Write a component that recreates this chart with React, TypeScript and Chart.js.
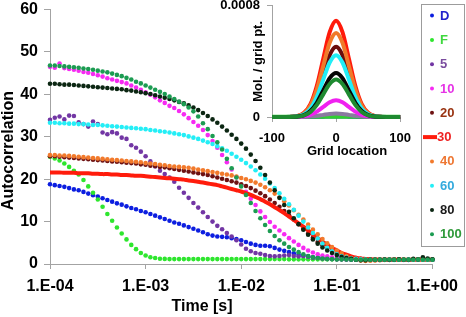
import { useEffect, useRef } from "react";
import { Chart, registerables } from "chart.js";

Chart.register(...registerables);

const FONT = "'Liberation Sans', Arial, Helvetica, sans-serif";

// ---------- main chart data ----------
const LOG_TIME = [
  -4.0, -3.95, -3.9, -3.85, -3.8, -3.75, -3.7, -3.65, -3.6, -3.55,
  -3.5, -3.45, -3.4, -3.35, -3.3, -3.25, -3.2, -3.15, -3.1, -3.05,
  -3.0, -2.95, -2.9, -2.85, -2.8, -2.75, -2.7, -2.65, -2.6, -2.55,
  -2.5, -2.45, -2.4, -2.35, -2.3, -2.25, -2.2, -2.15, -2.1, -2.05,
  -2.0, -1.95, -1.9, -1.85, -1.8, -1.75, -1.7, -1.65, -1.6, -1.55,
  -1.5, -1.45, -1.4, -1.35, -1.3, -1.25, -1.2, -1.15, -1.1, -1.05,
  -1.0, -0.95, -0.9, -0.85, -0.8, -0.75, -0.7, -0.65, -0.6, -0.55,
  -0.5, -0.45, -0.4, -0.35, -0.3, -0.25, -0.2, -0.15, -0.1, -0.05,
  0.0,
];

const G_D = [
  18.8, 18.6, 18.4, 18.2, 17.9, 17.6, 17.4, 17.0, 16.6, 16.2,
  15.9, 15.5, 15.1, 14.7, 14.3, 14.0, 13.6, 13.2, 12.9, 12.5,
  12.2, 11.8, 11.4, 11.0, 10.6, 10.2, 9.8, 9.5, 9.1, 8.7,
  8.3, 7.9, 7.5, 7.0, 6.7, 6.5, 6.4, 6.3, 6.1, 5.9,
  5.6, 5.2, 4.8, 4.5, 4.3, 4.3, 4.2, 3.8, 3.4, 3.1,
  2.8, 2.5, 2.2, 2.0, 1.8, 1.6, 1.5, 1.4, 1.3, 1.2,
  1.2, 1.15, 1.1, 1.1, 1.05, 1.0, 1.0, 1.05, 1.0, 0.95,
  1.0, 1.0, 1.05, 1.0, 1.0, 0.95, 1.0, 1.05, 1.0, 1.0,
  1.0,
];
const G_F = [
  25.3, 24.9, 24.4, 23.7, 22.9, 22.0, 21.1, 19.8, 18.3, 16.8,
  15.2, 13.5, 11.8, 10.2, 8.6, 7.2, 5.8, 4.5, 3.5, 2.6,
  2.0, 1.6, 1.4, 1.25, 1.2, 1.15, 1.15, 1.15, 1.15, 1.15,
  1.15, 1.15, 1.15, 1.15, 1.15, 1.15, 1.15, 1.15, 1.15, 1.15,
  1.15, 1.15, 1.15, 1.15, 1.15, 1.15, 1.15, 1.15, 1.15, 1.15,
  1.1, 1.1, 1.1, 1.1, 1.1, 1.1, 1.1, 1.1, 1.1, 1.1,
  1.1, 1.1, 1.1, 1.1, 1.1, 1.1, 1.1, 1.1, 1.1, 1.1,
  1.1, 1.1, 1.1, 1.1, 1.1, 1.1, 1.1, 1.1, 1.1, 1.1,
  1.1,
];
const G_5 = [
  34.0, 34.5, 34.8, 34.1, 35.0, 34.9, 33.4, 33.0, 32.4, 33.6,
  33.0, 31.0, 30.6, 31.1, 30.8, 29.8, 29.5, 28.0, 27.4, 26.5,
  25.4, 24.2, 23.0, 22.0, 21.2, 20.4, 19.4, 18.0, 16.8, 15.6,
  14.4, 13.3, 12.2, 11.1, 10.0, 9.0, 8.2, 7.3, 6.5, 5.6,
  4.6, 3.6, 3.0, 2.6, 2.4, 2.1, 1.9, 1.8, 1.9, 2.0,
  2.1, 1.9, 1.8, 1.9, 1.7, 1.5, 1.4, 1.3, 1.2, 1.2,
  1.1, 1.1, 1.05, 1.0, 1.0, 1.0, 1.05, 1.0, 0.95, 1.0,
  1.0, 1.0, 1.0, 1.05, 1.0, 1.0, 1.0, 1.0, 1.0, 1.0,
  1.0,
];
const G_10 = [
  46.5, 46.3, 47.3, 46.2, 46.0, 45.8, 45.6, 45.3, 45.1, 44.8,
  44.5, 44.2, 43.8, 43.5, 43.2, 42.9, 42.6, 42.1, 41.6, 41.1,
  40.5, 39.9, 39.3, 38.6, 38.0, 37.3, 36.8, 36.1, 35.3, 34.4,
  33.5, 32.6, 31.6, 30.4, 29.0, 27.4, 25.7, 24.0, 22.3, 20.5,
  18.6, 17.0, 15.4, 13.9, 12.4, 11.1, 9.9, 8.8, 7.9, 7.0,
  6.1, 5.3, 4.5, 3.8, 3.2, 2.7, 2.3, 2.0, 1.8, 1.6,
  1.45, 1.35, 1.25, 1.2, 1.15, 1.1, 1.1, 1.05, 1.0, 1.0,
  1.0, 1.05, 1.0, 1.0, 0.95, 1.0, 1.0, 1.0, 1.05, 1.0,
  1.0,
];
const G_20 = [
  25.4, 25.4, 25.3, 25.2, 25.1, 25.0, 24.9, 24.8, 24.7, 24.6,
  24.5, 24.4, 24.3, 24.2, 24.1, 24.0, 23.9, 23.8, 23.7, 23.5,
  23.4, 23.2, 23.1, 22.9, 22.8, 22.6, 22.4, 22.2, 22.0, 21.8,
  21.6, 21.4, 21.2, 21.0, 20.7, 20.4, 20.1, 19.8, 19.5, 19.2,
  18.8, 18.4, 17.9, 17.3, 16.7, 16.0, 15.2, 14.4, 13.5, 12.5,
  11.5, 10.5, 9.4, 8.3, 7.2, 6.2, 5.2, 4.4, 3.7, 3.1,
  2.6, 2.2, 1.9, 1.6, 1.4, 1.2, 1.1, 1.0, 0.95, 1.0,
  1.0, 0.95, 1.0, 1.0, 1.0, 1.0, 1.0, 1.05, 1.0, 1.0,
  1.0,
];
const G_30 = [
  21.6, 21.6, 21.6, 21.5, 21.5, 21.5, 21.4, 21.4, 21.4, 21.3,
  21.3, 21.2, 21.2, 21.1, 21.1, 21.0, 21.0, 20.9, 20.8, 20.8,
  20.7, 20.6, 20.5, 20.4, 20.3, 20.2, 20.1, 20.0, 19.9, 19.7,
  19.6, 19.4, 19.2, 19.0, 18.8, 18.6, 18.3, 18.0, 17.7, 17.4,
  17.1, 16.7, 16.3, 15.8, 15.3, 14.7, 14.1, 13.4, 12.7, 12.0,
  11.2, 10.4, 9.6, 8.8, 7.9, 7.0, 6.1, 5.3, 4.5, 3.8,
  3.2, 2.6, 2.2, 1.8, 1.5, 1.3, 1.2, 1.1, 1.05, 1.0,
  1.0, 1.0, 1.0, 1.0, 1.0, 1.0, 1.0, 1.0, 1.0, 1.0,
  1.0,
];
const G_40 = [
  25.7, 25.7, 25.6, 25.6, 25.5, 25.4, 25.3, 25.2, 25.1, 25.0,
  24.9, 24.8, 24.7, 24.6, 24.5, 24.4, 24.3, 24.2, 24.1, 24.0,
  23.8, 23.7, 23.6, 23.4, 23.3, 23.1, 23.0, 22.9, 22.8, 22.7,
  22.5, 22.3, 22.1, 21.9, 21.7, 21.5, 21.3, 21.1, 20.9, 20.6,
  20.3, 20.0, 19.6, 19.2, 18.7, 18.1, 17.4, 16.6, 15.7, 14.8,
  13.8, 12.7, 11.6, 10.5, 9.3, 8.1, 7.0, 5.9, 4.9, 4.0,
  3.2, 2.5, 1.9, 1.4, 1.1, 0.8, 0.7, 0.75, 0.85, 0.9,
  0.95, 1.0, 1.0, 1.05, 1.0, 1.0, 1.05, 1.0, 1.0, 1.05,
  1.0,
];
const G_60 = [
  33.3, 33.3, 33.2, 33.2, 33.1, 33.1, 33.0, 33.0, 32.9, 32.8,
  32.8, 32.7, 32.6, 32.5, 32.4, 32.3, 32.2, 32.1, 32.0, 31.9,
  31.8, 31.6, 31.5, 31.3, 31.2, 31.0, 30.8, 30.6, 30.4, 30.1,
  29.8, 29.5, 29.1, 28.7, 28.3, 27.8, 27.3, 26.7, 26.0, 25.3,
  24.6, 23.8, 23.0, 22.1, 21.1, 20.1, 19.0, 17.9, 16.7, 15.4,
  14.1, 12.8, 11.4, 10.0, 8.6, 7.3, 6.0, 4.8, 3.8, 3.0,
  2.3, 1.8, 1.5, 1.3, 1.2, 1.1, 1.05, 1.0, 1.0, 1.0,
  1.0, 1.0, 0.95, 1.0, 1.0, 1.05, 1.0, 1.0, 1.0, 1.0,
  1.0,
];
const G_80 = [
  42.5, 42.5, 42.4, 42.3, 42.3, 42.2, 42.1, 42.0, 41.9, 41.8,
  41.7, 41.6, 41.5, 41.4, 41.3, 41.2, 41.0, 40.9, 40.7, 40.5,
  40.3, 40.1, 39.8, 39.5, 39.2, 38.9, 38.6, 38.2, 37.9, 37.4,
  36.9, 36.3, 35.6, 34.9, 34.1, 33.3, 32.4, 31.5, 30.5, 29.5,
  28.4, 27.2, 25.8, 24.3, 22.7, 21.0, 19.2, 17.4, 15.6, 13.9,
  12.3, 10.8, 9.4, 8.1, 6.9, 5.8, 4.8, 3.9, 3.2, 2.6,
  2.1, 1.7, 1.4, 1.2, 1.0, 0.9, 0.9, 1.0, 1.0, 1.0,
  1.05, 1.0, 1.0, 1.1, 1.0, 1.0, 1.2, 1.05, 1.6, 1.3,
  1.1,
];
const G_100 = [
  46.8, 46.8, 46.7, 46.6, 46.5, 46.4, 46.3, 46.1, 46.0, 45.8,
  45.6, 45.4, 45.2, 44.9, 44.6, 44.3, 43.9, 43.5, 43.0, 42.6,
  42.1, 41.6, 41.1, 40.6, 40.1, 39.5, 38.9, 38.3, 37.7, 36.9,
  36.0, 34.8, 33.2, 31.8, 30.2, 28.7, 27.0, 24.8, 22.6, 20.4,
  18.3, 16.3, 14.4, 12.5, 10.8, 9.2, 7.8, 6.6, 5.6, 4.8,
  4.0, 3.4, 2.8, 2.3, 1.9, 1.6, 1.4, 1.3, 1.2, 1.15,
  1.1, 1.1, 1.05, 1.0, 1.0, 1.0, 1.05, 1.0, 1.0, 1.0,
  1.0, 1.05, 1.0, 1.0, 1.0, 1.0, 1.0, 1.05, 1.0, 1.0,
  1.0,
];

const SERIES_NAMES = ["D", "F", "5", "10", "20", "30", "40", "60", "80", "100"];
const SERIES_VALUES = [G_D, G_F, G_5, G_10, G_20, G_30, G_40, G_60, G_80, G_100];
const SERIES_COLORS = [
  "#0c1ee0", "#2ee62e", "#7236a4", "#f62af2", "#6e1212",
  "#ff1c0c", "#f27a2c", "#24eef6", "#0b2612", "#1c9c52",
];
const LEGEND_TEXT_COLORS = [
  "#2222cc", "#3ed83e", "#7a4c9e", "#e633e6", "#993311",
  "#ee2222", "#ee7733", "#33aadd", "#1a1a1a", "#2f9a3a",
];
const LINE_SERIES = "30";

const X_TICKS = [1e-4, 1e-3, 1e-2, 1e-1, 1];
const X_TICK_LABELS = ["1.E-04", "1.E-03", "1.E-02", "1.E-01", "1.E+00"];
const Y_MIN = 0;
const Y_MAX = 60;
const Y_STEP = 10;
const X_TITLE = "Time [s]";
const Y_TITLE = "Autocorrelation";

// ---------- inset data (values in units of 1e-4 Mol. / grid pt.) ----------
const INSET_X = [-100, -80, -60, -50, -40, -30, -20, -10, 0, 10, 20, 30, 40, 50, 60, 80, 100];
const I_D = [0, 0, 0, 0.002, 0.005, 0.013, 0.024, 0.035, 0.04, 0.035, 0.024, 0.013, 0.005, 0.002, 0, 0, 0];
const I_F = [0.02, 0.02, 0.02, 0.02, 0.02, 0.02, 0.02, 0.02, 0.02, 0.02, 0.02, 0.02, 0.02, 0.02, 0.02, 0.02, 0.02];
const I_5 = [0, 0, 0.003, 0.011, 0.034, 0.081, 0.152, 0.22, 0.25, 0.22, 0.152, 0.081, 0.034, 0.011, 0.003, 0, 0];
const I_10 = [0, 0, 0.013, 0.053, 0.16, 0.39, 0.73, 1.06, 1.2, 1.06, 0.73, 0.39, 0.16, 0.053, 0.013, 0, 0];
const I_20 = [0, 0.002, 0.06, 0.22, 0.68, 1.64, 3.07, 4.45, 5.05, 4.45, 3.07, 1.64, 0.68, 0.22, 0.06, 0.002, 0];
const I_30 = [0, 0.002, 0.08, 0.3, 0.93, 2.25, 4.2, 6.1, 6.92, 6.1, 4.2, 2.25, 0.93, 0.3, 0.08, 0.002, 0];
const I_40 = [0, 0.002, 0.07, 0.27, 0.82, 1.97, 3.67, 5.34, 6.05, 5.34, 3.67, 1.97, 0.82, 0.27, 0.07, 0.002, 0];
const I_60 = [0, 0.001, 0.05, 0.2, 0.6, 1.45, 2.7, 3.92, 4.45, 3.92, 2.7, 1.45, 0.6, 0.2, 0.05, 0.001, 0];
const I_80 = [0, 0.001, 0.035, 0.14, 0.43, 1.03, 1.92, 2.8, 3.17, 2.8, 1.92, 1.03, 0.43, 0.14, 0.035, 0.001, 0];
const I_100 = [0, 0.001, 0.03, 0.12, 0.36, 0.87, 1.63, 2.37, 2.69, 2.37, 1.63, 0.87, 0.36, 0.12, 0.03, 0.001, 0];
const INSET_VALUES = [I_D, I_F, I_5, I_10, I_20, I_30, I_40, I_60, I_80, I_100];
const INSET_COLORS = [
  "#1020d0", "#30d030", "#8a7aa0", "#f020f0", "#6a0c0c",
  "#ff1a0a", "#f07a2a", "#22eef6", "#050505", "#1e8a30",
];
const INSET_X_TICKS = [-100, 0, 100];
const INSET_Y_TICKS = [0, 8];
const INSET_Y_LABELS = ["0", "0.0008"];
const INSET_X_TITLE = "Grid location";
const INSET_Y_TITLE = "Mol. / grid pt.";

const AXIS_GREY = "#a3a3a3";

const mainOverlay = {
  id: "mainOverlay",
  afterDraw(chart: any) {
    const ctx = chart.ctx;
    const a = chart.chartArea;
    ctx.save();
    ctx.fillStyle = "#000";
    ctx.font = `bold 16px ${FONT}`;
    ctx.textAlign = "center";
    ctx.textBaseline = "middle";
    ctx.fillText(X_TITLE, a.left + 152, a.bottom + 43);
    ctx.save();
    ctx.translate(9, a.top + 141);
    ctx.rotate(-Math.PI / 2);
    ctx.fillText(Y_TITLE, 0, 0);
    ctx.restore();

    // legend box
    const left = 421, top = a.top - 6, w = 44, h = 243;
    ctx.fillStyle = "#fff";
    ctx.fillRect(left, top, w, h);
    ctx.strokeStyle = "#9c9c9c";
    ctx.lineWidth = 1;
    ctx.strokeRect(left + 0.5, Math.round(top) + 0.5, w - 1, h - 1);
    ctx.font = `bold 13px ${FONT}`;
    ctx.textAlign = "left";
    chart.data.datasets.forEach((ds: any, i: number) => {
      const y = top + 12 + i * 24.3;
      if (ds.label === LINE_SERIES) {
        ctx.strokeStyle = ds.borderColor;
        ctx.lineWidth = 4;
        ctx.beginPath();
        ctx.moveTo(423, y);
        ctx.lineTo(437, y);
        ctx.stroke();
        ctx.fillStyle = LEGEND_TEXT_COLORS[i];
        ctx.fillText(ds.label, 437, y + 0.5);
      } else {
        ctx.fillStyle = ds.backgroundColor;
        ctx.beginPath();
        ctx.arc(432, y, 2, 0, Math.PI * 2);
        ctx.fill();
        ctx.fillStyle = LEGEND_TEXT_COLORS[i];
        ctx.fillText(ds.label, 440, y + 0.5);
      }
    });
    ctx.restore();
  },
};

const insetOverlay = {
  id: "insetOverlay",
  afterDraw(chart: any) {
    const ctx = chart.ctx;
    const a = chart.chartArea;
    ctx.save();
    ctx.fillStyle = "#000";
    ctx.font = `bold 13px ${FONT}`;
    ctx.textAlign = "center";
    ctx.textBaseline = "middle";
    ctx.fillText(INSET_X_TITLE, a.left + 75, a.bottom + 34);
    ctx.save();
    ctx.translate(a.left - 14, (a.top + a.bottom) / 2);
    ctx.rotate(-Math.PI / 2);
    ctx.fillText(INSET_Y_TITLE, 0, 0);
    ctx.restore();
    ctx.restore();
  },
};

export default function App() {
  const mainRef = useRef<HTMLCanvasElement | null>(null);
  const insetRef = useRef<HTMLCanvasElement | null>(null);

  useEffect(() => {
    const datasets = SERIES_NAMES.map((name, i) => {
      const isLine = name === LINE_SERIES;
      return {
        label: name,
        data: LOG_TIME.map((e, k) => ({ x: Math.pow(10, e), y: SERIES_VALUES[i][k] })),
        showLine: isLine,
        borderColor: SERIES_COLORS[i],
        backgroundColor: SERIES_COLORS[i],
        borderWidth: isLine ? 4 : 0,
        pointRadius: isLine ? 0 : 2.3,
        pointBorderWidth: 0,
        pointHoverRadius: 0,
        tension: 0.3,
        order: -i,
        clip: 6,
      };
    });

    const tickFont = { family: FONT, size: 16, weight: "bold" as const };

    const main = new Chart(mainRef.current as HTMLCanvasElement, {
      type: "scatter",
      data: { datasets },
      options: {
        animation: false,
        responsive: false,
        maintainAspectRatio: false,
        devicePixelRatio: 1,
        layout: { padding: { left: 0, top: 10, right: 30, bottom: 0 } },
        plugins: { legend: { display: false }, tooltip: { enabled: false } },
        scales: {
          x: {
            type: "logarithmic",
            min: X_TICKS[0],
            max: X_TICKS[X_TICKS.length - 1],
            afterBuildTicks: (s: any) => {
              s.ticks = X_TICKS.map((v) => ({ value: v }));
            },
            afterTickToLabelConversion: (s: any) => {
              s.ticks.forEach((t: any, i: number) => {
                t.label = X_TICK_LABELS[i];
              });
            },
            afterFit: (s: any) => {
              s.height = 53;
            },
            ticks: { autoSkip: false, maxRotation: 0, minRotation: 0, color: "#000", font: tickFont, padding: 8 },
            grid: { drawOnChartArea: false, drawTicks: true, tickLength: 5, color: AXIS_GREY },
            border: { display: true, color: AXIS_GREY },
          },
          y: {
            min: Y_MIN,
            max: Y_MAX,
            afterFit: (s: any) => {
              s.width = 50;
            },
            ticks: { stepSize: Y_STEP, color: "#000", font: tickFont, padding: 6 },
            grid: { drawOnChartArea: false, drawTicks: true, tickLength: 6, color: AXIS_GREY },
            border: { display: true, color: AXIS_GREY },
          },
        },
      },
      plugins: [mainOverlay],
    } as any);

    const insetFont = { family: FONT, size: 13, weight: "bold" as const };
    const insetDatasets = SERIES_NAMES.map((name, i) => ({
      label: name,
      data: INSET_X.map((x, k) => ({ x, y: INSET_VALUES[i][k] })),
      showLine: true,
      borderColor: INSET_COLORS[i],
      backgroundColor: INSET_COLORS[i],
      borderWidth: 4,
      pointRadius: 0,
      pointHoverRadius: 0,
      cubicInterpolationMode: "monotone" as const,
      order: -i,
      clip: 5,
    }));

    const inset = new Chart(insetRef.current as HTMLCanvasElement, {
      type: "scatter",
      data: { datasets: insetDatasets },
      options: {
        animation: false,
        responsive: false,
        maintainAspectRatio: false,
        devicePixelRatio: 1,
        layout: { padding: { left: 0, top: 8, right: 13, bottom: 0 } },
        plugins: { legend: { display: false }, tooltip: { enabled: false } },
        scales: {
          x: {
            type: "linear",
            min: INSET_X_TICKS[0],
            max: INSET_X_TICKS[INSET_X_TICKS.length - 1],
            afterBuildTicks: (s: any) => {
              s.ticks = INSET_X_TICKS.map((v) => ({ value: v }));
            },
            afterFit: (s: any) => {
              s.height = 43;
            },
            ticks: { color: "#000", font: insetFont, padding: 9, maxRotation: 0 },
            grid: { drawOnChartArea: false, drawTicks: true, tickLength: 5, color: AXIS_GREY },
            border: { display: true, color: AXIS_GREY },
          },
          y: {
            min: INSET_Y_TICKS[0],
            max: INSET_Y_TICKS[INSET_Y_TICKS.length - 1],
            afterBuildTicks: (s: any) => {
              s.ticks = INSET_Y_TICKS.map((v) => ({ value: v }));
            },
            afterTickToLabelConversion: (s: any) => {
              s.ticks.forEach((t: any, i: number) => {
                t.label = INSET_Y_LABELS[i];
              });
            },
            afterFit: (s: any) => {
              s.width = 82;
            },
            ticks: { color: "#000", font: insetFont, padding: 7 },
            grid: { drawOnChartArea: false, drawTicks: true, tickLength: 5, color: AXIS_GREY },
            border: { display: true, color: AXIS_GREY },
          },
        },
      },
      plugins: [insetOverlay],
    } as any);

    return () => {
      main.destroy();
      inset.destroy();
    };
  }, []);

  return (
    <div style={{ position: "absolute", left: 0, top: 0, width: 466, height: 317, overflow: "hidden", background: "#fff" }}>
      <canvas
        ref={mainRef}
        width={466}
        height={323}
        style={{ position: "absolute", left: 0, top: -6, width: 466, height: 323, display: "block" }}
      />
      <canvas
        ref={insetRef}
        width={230}
        height={169}
        style={{ position: "absolute", left: 190, top: -9, width: 230, height: 169, display: "block" }}
      />
    </div>
  );
}
